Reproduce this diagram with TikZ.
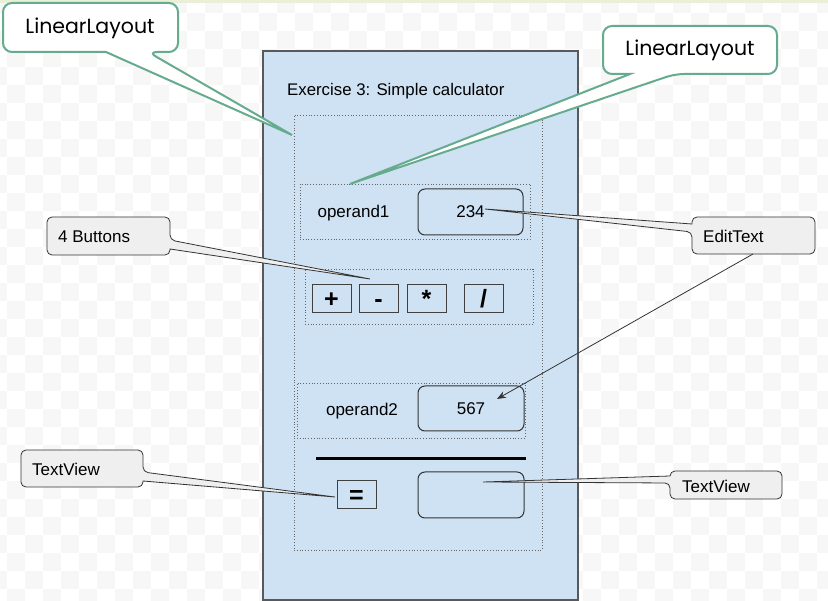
\documentclass[tikz,border=0pt]{standalone}
\usepackage{fontspec}
\setmainfont{Liberation Sans}
\newfontfamily\gothic{Poppins}
\usetikzlibrary{arrows.meta}
\definecolor{phone}{HTML}{CFE2F3}
\definecolor{lgreen}{HTML}{67AB8F}
\definecolor{callgray}{HTML}{EFEFEF}
\definecolor{checker}{HTML}{F7F7F7}
\definecolor{topstrip}{HTML}{EAF0D8}
\definecolor{ink}{HTML}{333333}
\tikzset{
  phonebox/.style={fill=phone, draw=black!65, line width=1.2pt, inner sep=0pt},
  dotbox/.style={draw=black!60, dotted, line width=0.8pt, inner sep=0pt},
  fieldbox/.style={draw=ink, rounded corners=7pt, line width=1pt, inner sep=0pt,
    font=\fontsize{17}{20}\selectfont},
  btnbox/.style={draw=black!75, line width=1pt, inner sep=0pt, text height=18pt, text depth=0pt,
    minimum width=39pt, minimum height=28pt, font=\fontsize{25}{27}\selectfont\bfseries},
  lbl/.style={inner sep=0pt, font=\fontsize{17}{20}\selectfont},
  gcall/.style={fill=callgray, draw=ink, line width=0.8pt},
  lcall/.style={fill=white, draw=lgreen, line width=2pt},
  ltext/.style={inner sep=0pt, font=\gothic\fontsize{20.5}{24}\selectfont},
}
\begin{document}
\begin{tikzpicture}[x=1pt,y=-1pt]
\useasboundingbox (0,0) rectangle (828,601);
% background checkerboard
\begin{scope}
\clip (0,0) rectangle (828,601);
\foreach \i in {-1,...,46}{\foreach \j in {-1,...,33}{%
  \ifodd\numexpr\i+\j+2\relax\else\fill[checker] ({7+18*\i},{13+18*\j}) rectangle ++(18,18);\fi}}
\fill[topstrip] (0,0) rectangle (828,3);
\end{scope}

% phone
\node[phonebox, minimum width=315pt, minimum height=549pt] (phone) at (420.5,325.5) {};
\node[lbl, anchor=west, font=\fontsize{16.8}{19}\selectfont] (title) at (287,91) {Exercise 3: Simple calculator};
\node[dotbox, minimum width=248pt, minimum height=435pt] (outer) at (418,332.5) {};

% row 1
\node[dotbox, minimum width=230pt, minimum height=55pt] (row1) at (415,211.5) {};
\node[lbl] (op1) at (353.5,213) {operand1};
\node[fieldbox, minimum width=105pt, minimum height=46pt] (e1) at (470.5,212) {234};

% buttons
\node[dotbox, minimum width=228pt, minimum height=55pt] (brow) at (419,296.5) {};
\node[btnbox] (bplus) at (331.5,299) {+};
\node[btnbox] (bminus) at (378.5,299) {-};
\node[btnbox] (btimes) at (426.5,299) {*};
\node[btnbox] (bdiv) at (483.5,299) {/};

% row 2
\node[dotbox, minimum width=228pt, minimum height=55pt] (row2) at (411,410.5) {};
\node[lbl] (op2) at (362,411) {operand2};
\node[fieldbox, minimum width=106pt, minimum height=45pt] (e2) at (471,408.5) {567};

% result
\draw[line width=3pt] (316,459) -- (526,459);
\node[btnbox] (beq) at (356.5,495) {=};
\node[fieldbox, minimum width=106pt, minimum height=46pt] (res) at (471,495) {};

% tips
\coordinate (t1) at (292,135);
\coordinate (t2) at (350,184);
\coordinate (t3) at (370,279);
\coordinate (t4) at (485,209);
\coordinate (t5) at (335,497);
\coordinate (t6) at (483,482);
\coordinate (a4) at (753,254);
\coordinate (a4e) at (497,399);

% LinearLayout callouts
\draw[lcall] (90,3) [rounded corners=9pt] -- (178,3) -- (178,52) -- (148,52) [sharp corners] -- (t1) -- (106,52) [rounded corners=9pt] -- (3,52) -- (3,3) -- cycle;
\node[ltext] (ll1) at (90,28) {LinearLayout};
\draw[lcall] (690,26) [rounded corners=9pt] -- (777,26) -- (777,74) -- (675,74) [sharp corners] -- (t2) -- (630,74) [rounded corners=9pt] -- (603,74) -- (603,26) -- cycle;
\node[ltext] (ll2) at (690,50) {LinearLayout};

% gray callouts
\draw[gcall] (47,236) [rounded corners=5pt] -- (47,217) -- (170,217) -- (170,240) [sharp corners] -- (t3) -- (170,249) [rounded corners=5pt] -- (170,255) -- (47,255) -- cycle;
\node[lbl, anchor=west] (c4b) at (58,237) {4 Buttons};

\draw[gcall] (815,235) [rounded corners=5pt] -- (815,254) -- (692,254) -- (692,232) [sharp corners] -- (t4) -- (692,224) [rounded corners=5pt] -- (692,217) -- (815,217) -- cycle;
\node[lbl, anchor=west] (cet) at (703,236) {EditText};
\draw[draw=ink, line width=0.8pt, -{Stealth[length=9pt,width=7pt]}] (a4) -- (a4e);

\draw[gcall] (21,468) [rounded corners=5pt] -- (21,450) -- (143,450) -- (143,472) [sharp corners] -- (t5) -- (143,481) [rounded corners=5pt] -- (143,487) -- (21,487) -- cycle;
\node[lbl, anchor=west] (ctv1) at (32,469) {TextView};

\draw[gcall] (782,485) [rounded corners=5pt] -- (782,499) -- (670,499) -- (670,483) [sharp corners] -- (t6) -- (670,476) [rounded corners=5pt] -- (670,471) -- (782,471) -- cycle;
\node[lbl, anchor=west] (ctv2) at (682,486) {TextView};
\end{tikzpicture}
\end{document}
